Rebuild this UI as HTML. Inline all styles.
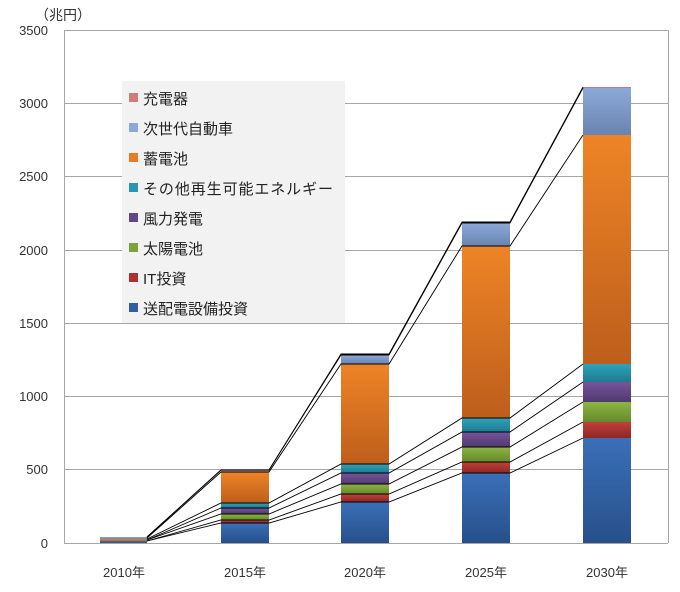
<!DOCTYPE html>
<html><head><meta charset="utf-8"><style>
html,body{margin:0;padding:0;background:#fff;}
svg{display:block;font-family:"Liberation Sans","Noto Sans CJK JP",sans-serif;}
</style></head><body>
<svg width="680" height="592" viewBox="0 0 680 592" xmlns="http://www.w3.org/2000/svg">
<defs>
<linearGradient id="gb" x1="0" y1="0" x2="0" y2="1"><stop offset="0" stop-color="#3a6fb8"/><stop offset="1" stop-color="#27508a"/></linearGradient>
<linearGradient id="gr" x1="0" y1="0" x2="0" y2="1"><stop offset="0" stop-color="#c0403c"/><stop offset="1" stop-color="#8f2624"/></linearGradient>
<linearGradient id="gg" x1="0" y1="0" x2="0" y2="1"><stop offset="0" stop-color="#8cb444"/><stop offset="1" stop-color="#648a2c"/></linearGradient>
<linearGradient id="gp" x1="0" y1="0" x2="0" y2="1"><stop offset="0" stop-color="#76559c"/><stop offset="1" stop-color="#523870"/></linearGradient>
<linearGradient id="gt" x1="0" y1="0" x2="0" y2="1"><stop offset="0" stop-color="#2fa2bc"/><stop offset="1" stop-color="#1f7a8f"/></linearGradient>
<linearGradient id="go" x1="0" y1="0" x2="0" y2="1"><stop offset="0" stop-color="#ee8426"/><stop offset="1" stop-color="#bd5e1c"/></linearGradient>
<linearGradient id="gn" x1="0" y1="0" x2="0" y2="1"><stop offset="0" stop-color="#8ba9d8"/><stop offset="1" stop-color="#6a84b0"/></linearGradient>
</defs>
<text x="35" y="20" font-size="14" fill="#333">（兆円）</text>
<g stroke="#a6a6a6" stroke-width="1">
<line x1="64" y1="30.5" x2="668" y2="30.5"/>
<line x1="64" y1="103.5" x2="668" y2="103.5"/>
<line x1="64" y1="176.5" x2="668" y2="176.5"/>
<line x1="64" y1="250.5" x2="668" y2="250.5"/>
<line x1="64" y1="323.5" x2="668" y2="323.5"/>
<line x1="64" y1="396.5" x2="668" y2="396.5"/>
<line x1="64" y1="469.5" x2="668" y2="469.5"/>
<line x1="64" y1="543.5" x2="668" y2="543.5"/>
<line x1="64.5" y1="30" x2="64.5" y2="543"/>
<line x1="668.5" y1="30" x2="668.5" y2="543"/>
</g>
<g font-size="13" fill="#333" text-anchor="end">
<text x="48" y="35">3500</text><text x="48" y="108">3000</text><text x="48" y="181">2500</text>
<text x="48" y="255">2000</text><text x="48" y="328">1500</text><text x="48" y="401">1000</text>
<text x="48" y="474">500</text><text x="48" y="548">0</text>
</g>
<!-- bars -->
<g>
<!-- 2010 -->
<rect x="100" y="541" width="47" height="2" fill="url(#gb)"/>
<rect x="100" y="539" width="47" height="2" fill="url(#go)"/>
<rect x="100" y="537" width="47" height="2" fill="url(#gn)"/>
<!-- 2015 -->
<rect x="221" y="523" width="48" height="20" fill="url(#gb)"/>
<rect x="221" y="520" width="48" height="3" fill="url(#gr)"/>
<rect x="221" y="514" width="48" height="6" fill="url(#gg)"/>
<rect x="221" y="508" width="48" height="6" fill="url(#gp)"/>
<rect x="221" y="503" width="48" height="5" fill="url(#gt)"/>
<rect x="221" y="472" width="48" height="31" fill="url(#go)"/>
<rect x="221" y="470" width="48" height="2" fill="#c99"/>
<!-- 2020 -->
<rect x="341" y="502" width="48" height="41" fill="url(#gb)"/>
<rect x="341" y="494" width="48" height="8" fill="url(#gr)"/>
<rect x="341" y="484" width="48" height="10" fill="url(#gg)"/>
<rect x="341" y="473" width="48" height="11" fill="url(#gp)"/>
<rect x="341" y="464" width="48" height="9" fill="url(#gt)"/>
<rect x="341" y="364" width="48" height="100" fill="url(#go)"/>
<rect x="341" y="355" width="48" height="9" fill="url(#gn)"/>
<rect x="341" y="354" width="48" height="1" fill="#c77"/>
<!-- 2025 -->
<rect x="462" y="473" width="48" height="70" fill="url(#gb)"/>
<rect x="462" y="462" width="48" height="11" fill="url(#gr)"/>
<rect x="462" y="447" width="48" height="15" fill="url(#gg)"/>
<rect x="462" y="432" width="48" height="15" fill="url(#gp)"/>
<rect x="462" y="418" width="48" height="14" fill="url(#gt)"/>
<rect x="462" y="246" width="48" height="172" fill="url(#go)"/>
<rect x="462" y="223" width="48" height="23" fill="url(#gn)"/>
<rect x="462" y="222" width="48" height="1" fill="#c77"/>
<!-- 2030 -->
<rect x="583" y="438" width="48" height="105" fill="url(#gb)"/>
<rect x="583" y="422" width="48" height="16" fill="url(#gr)"/>
<rect x="583" y="402" width="48" height="20" fill="url(#gg)"/>
<rect x="583" y="382" width="48" height="20" fill="url(#gp)"/>
<rect x="583" y="364" width="48" height="18" fill="url(#gt)"/>
<rect x="583" y="135" width="48" height="229" fill="url(#go)"/>
<rect x="583" y="88" width="48" height="47" fill="url(#gn)"/>
<rect x="583" y="87" width="48" height="1" fill="#c77"/>
</g>
<!-- series lines -->
<g stroke="#000" stroke-width="0.9" fill="none">
<polyline points="147,541 221,523 269,523 341,502 389,502 462,473 510,473 583,438"/>
<polyline points="147,541 221,520 269,520 341,494 389,494 462,462 510,462 583,422"/>
<polyline points="147,540 221,514 269,514 341,484 389,484 462,447 510,447 583,402"/>
<polyline points="147,540 221,508 269,508 341,473 389,473 462,432 510,432 583,382"/>
<polyline points="147,539 221,503 269,503 341,464 389,464 462,418 510,418 583,364"/>
<polyline points="147,538 221,472 269,472 341,364 389,364 462,246 510,246 583,135"/>
<polyline points="147,537 221,470 269,470 341,355 389,355 462,223 510,223 583,88"/>
<polyline points="147,537 221,470 269,470 341,354 389,354 462,222 510,222 583,87"/>
</g>
<!-- legend -->
<rect x="122" y="81" width="223" height="242" fill="#f2f2f2"/>
<g font-size="15" fill="#222">
<rect x="129" y="93" width="9" height="9" fill="#d07c7a"/><text x="143" y="104">充電器</text>
<rect x="129" y="123" width="9" height="9" fill="#8ba9d8"/><text x="143" y="134">次世代自動車</text>
<rect x="129" y="153" width="9" height="9" fill="#e87c22"/><text x="143" y="164">蓄電池</text>
<rect x="129" y="183" width="9" height="9" fill="#2896b0"/><text x="143" y="194" textLength="190">その他再生可能エネルギー</text>
<rect x="129" y="213" width="9" height="9" fill="#63468a"/><text x="143" y="224">風力発電</text>
<rect x="129" y="243" width="9" height="9" fill="#7ca23a"/><text x="143" y="254">太陽電池</text>
<rect x="129" y="273" width="9" height="9" fill="#b03030"/><text x="143" y="284">IT投資</text>
<rect x="129" y="303" width="9" height="9" fill="#2f5fa0"/><text x="143" y="314">送配電設備投資</text>
</g>
<g font-size="13" fill="#333" text-anchor="middle">
<text x="124" y="577">2010年</text><text x="245" y="577">2015年</text><text x="365" y="577">2020年</text>
<text x="486" y="577">2025年</text><text x="607" y="577">2030年</text>
</g>
</svg>
</body></html>
